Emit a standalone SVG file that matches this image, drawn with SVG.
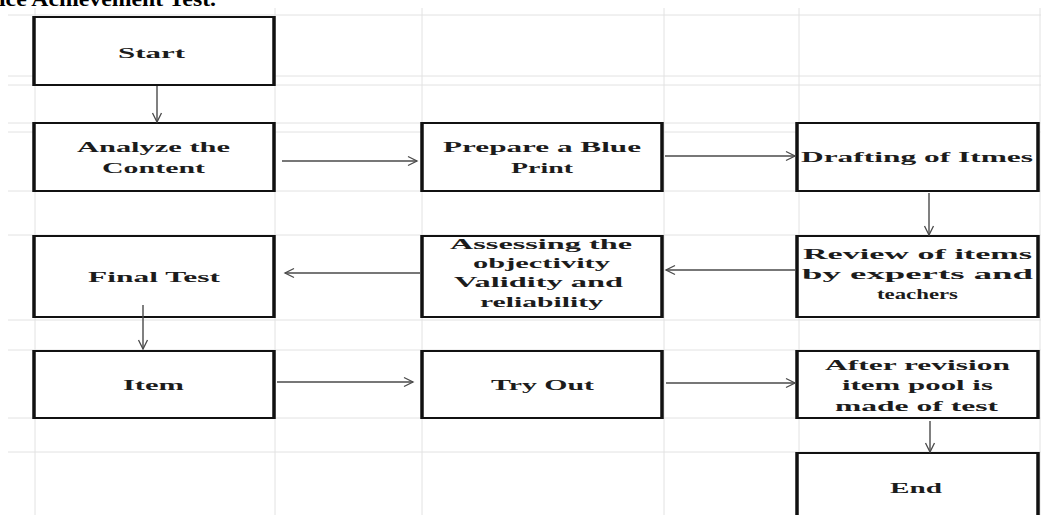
<svg xmlns="http://www.w3.org/2000/svg" width="1041" height="515" viewBox="0 0 1041 515">
<style>
.grid line{stroke:#e2e2e2;stroke-width:1}
.box{fill:#fff;stroke:#111;stroke-width:2}
.side{stroke:#111;stroke-width:3.5}
.t{font-family:"Liberation Serif","Times New Roman",serif;font-weight:bold;font-size:15px;fill:#1c1c1c}
.title{font-family:"Liberation Serif","Times New Roman",serif;font-weight:bold;font-size:22px;fill:#000}
.conn line{stroke:#4a4a4a;stroke-width:1.4;fill:none}
</style>
<defs>
<marker id="arr" markerWidth="12" markerHeight="12" refX="10" refY="5" orient="auto" markerUnits="userSpaceOnUse" viewBox="0 0 12 10">
<path d="M1,0.5 L10,5 L1,9.5" fill="none" stroke="#4a4a4a" stroke-width="1.3"/>
</marker>
</defs>
<rect width="1041" height="515" fill="#fff"/>
<text class="title" x="-1" y="6" textLength="217" lengthAdjust="spacingAndGlyphs">ice Achievement Test.</text>
<g class="grid">
<line x1="8" y1="15" x2="1041" y2="15"/>
<line x1="8" y1="76" x2="1041" y2="76"/>
<line x1="8" y1="85" x2="1041" y2="85"/>
<line x1="8" y1="123" x2="1041" y2="123"/>
<line x1="8" y1="132" x2="1041" y2="132"/>
<line x1="8" y1="191" x2="1041" y2="191"/>
<line x1="8" y1="235" x2="1041" y2="235"/>
<line x1="8" y1="320" x2="1041" y2="320"/>
<line x1="8" y1="350" x2="1041" y2="350"/>
<line x1="8" y1="418" x2="1041" y2="418"/>
<line x1="8" y1="452" x2="1041" y2="452"/>
<line x1="35" y1="8" x2="35" y2="515"/>
<line x1="275" y1="8" x2="275" y2="515"/>
<line x1="422" y1="8" x2="422" y2="515"/>
<line x1="664" y1="8" x2="664" y2="515"/>
<line x1="799" y1="8" x2="799" y2="515"/>
<line x1="1040" y1="8" x2="1040" y2="515"/>
</g>
<g id="start">
<rect class="box" x="34" y="17" width="240" height="68"/>
<line class="side" x1="34" y1="16" x2="34" y2="86"/><line class="side" x1="274" y1="16" x2="274" y2="86"/>
<text class="t" x="118" y="58" textLength="67" lengthAdjust="spacingAndGlyphs">Start</text>
</g>
<g id="analyze">
<rect class="box" x="34" y="123" width="240" height="68"/>
<line class="side" x1="34" y1="122" x2="34" y2="192"/><line class="side" x1="274" y1="122" x2="274" y2="192"/>
<text class="t" x="77" y="152" textLength="153" lengthAdjust="spacingAndGlyphs">Analyze the</text>
<text class="t" x="102" y="173" textLength="103" lengthAdjust="spacingAndGlyphs">Content</text>
</g>
<g id="prepare">
<rect class="box" x="422" y="123" width="240" height="68"/>
<line class="side" x1="422" y1="122" x2="422" y2="192"/><line class="side" x1="662" y1="122" x2="662" y2="192"/>
<text class="t" x="443" y="152" textLength="198" lengthAdjust="spacingAndGlyphs">Prepare a Blue</text>
<text class="t" x="511" y="173" textLength="62" lengthAdjust="spacingAndGlyphs">Print</text>
</g>
<g id="drafting">
<rect class="box" x="797" y="123" width="241" height="68"/>
<line class="side" x1="797" y1="122" x2="797" y2="192"/><line class="side" x1="1038" y1="122" x2="1038" y2="192"/>
<text class="t" x="801" y="162" textLength="232" lengthAdjust="spacingAndGlyphs">Drafting of Itmes</text>
</g>
<g id="final">
<rect class="box" x="34" y="236" width="240" height="81"/>
<line class="side" x1="34" y1="235" x2="34" y2="318"/><line class="side" x1="274" y1="235" x2="274" y2="318"/>
<text class="t" x="88" y="282" textLength="132" lengthAdjust="spacingAndGlyphs">Final Test</text>
</g>
<g id="assessing">
<rect class="box" x="422" y="236" width="240" height="81"/>
<line class="side" x1="422" y1="235" x2="422" y2="318"/><line class="side" x1="662" y1="235" x2="662" y2="318"/>
<text class="t" x="450" y="249" textLength="182" lengthAdjust="spacingAndGlyphs">Assessing the</text>
<text class="t" x="473" y="268" textLength="137" lengthAdjust="spacingAndGlyphs">objectivity</text>
<text class="t" x="454" y="287" textLength="169" lengthAdjust="spacingAndGlyphs">Validity and</text>
<text class="t" x="480" y="307" textLength="123" lengthAdjust="spacingAndGlyphs">reliability</text>
</g>
<g id="review">
<rect class="box" x="797" y="236" width="241" height="81"/>
<line class="side" x1="797" y1="235" x2="797" y2="318"/><line class="side" x1="1038" y1="235" x2="1038" y2="318"/>
<text class="t" x="803" y="259" textLength="229" lengthAdjust="spacingAndGlyphs">Review of items</text>
<text class="t" x="802" y="279" textLength="231" lengthAdjust="spacingAndGlyphs">by experts and</text>
<text class="t" x="877" y="299" textLength="81" lengthAdjust="spacingAndGlyphs" style="font-size:15px">teachers</text>
</g>
<g id="item">
<rect class="box" x="34" y="351" width="240" height="67"/>
<line class="side" x1="34" y1="350" x2="34" y2="419"/><line class="side" x1="274" y1="350" x2="274" y2="419"/>
<text class="t" x="123" y="390" textLength="61" lengthAdjust="spacingAndGlyphs">Item</text>
</g>
<g id="tryout">
<rect class="box" x="422" y="351" width="240" height="67"/>
<line class="side" x1="422" y1="350" x2="422" y2="419"/><line class="side" x1="662" y1="350" x2="662" y2="419"/>
<text class="t" x="491" y="390" textLength="103" lengthAdjust="spacingAndGlyphs">Try Out</text>
</g>
<g id="after">
<rect class="box" x="797" y="351" width="241" height="67"/>
<line class="side" x1="797" y1="350" x2="797" y2="419"/><line class="side" x1="1038" y1="350" x2="1038" y2="419"/>
<text class="t" x="825" y="370" textLength="185" lengthAdjust="spacingAndGlyphs">After revision</text>
<text class="t" x="842" y="390" textLength="151" lengthAdjust="spacingAndGlyphs">item pool is</text>
<text class="t" x="835" y="411" textLength="163" lengthAdjust="spacingAndGlyphs">made of test</text>
</g>
<g id="end">
<rect class="box" x="797" y="453" width="241" height="70"/>
<line class="side" x1="797" y1="452" x2="797" y2="515"/><line class="side" x1="1038" y1="452" x2="1038" y2="515"/>
<text class="t" x="890" y="493" textLength="52" lengthAdjust="spacingAndGlyphs">End</text>
</g>
<g class="conn" id="connectors">
<line x1="157" y1="86" x2="157" y2="122" marker-end="url(#arr)"/>
<line x1="282" y1="161" x2="417" y2="161" marker-end="url(#arr)"/>
<line x1="665" y1="156" x2="795" y2="156" marker-end="url(#arr)"/>
<line x1="929" y1="193" x2="929" y2="235" marker-end="url(#arr)"/>
<line x1="795" y1="270" x2="666" y2="270" marker-end="url(#arr)"/>
<line x1="420" y1="273" x2="285" y2="273" marker-end="url(#arr)"/>
<line x1="143" y1="305" x2="143" y2="349" marker-end="url(#arr)"/>
<line x1="277" y1="382" x2="413" y2="382" marker-end="url(#arr)"/>
<line x1="666" y1="383" x2="795" y2="383" marker-end="url(#arr)"/>
<line x1="930" y1="421" x2="930" y2="452" marker-end="url(#arr)"/>
</g>
</svg>
